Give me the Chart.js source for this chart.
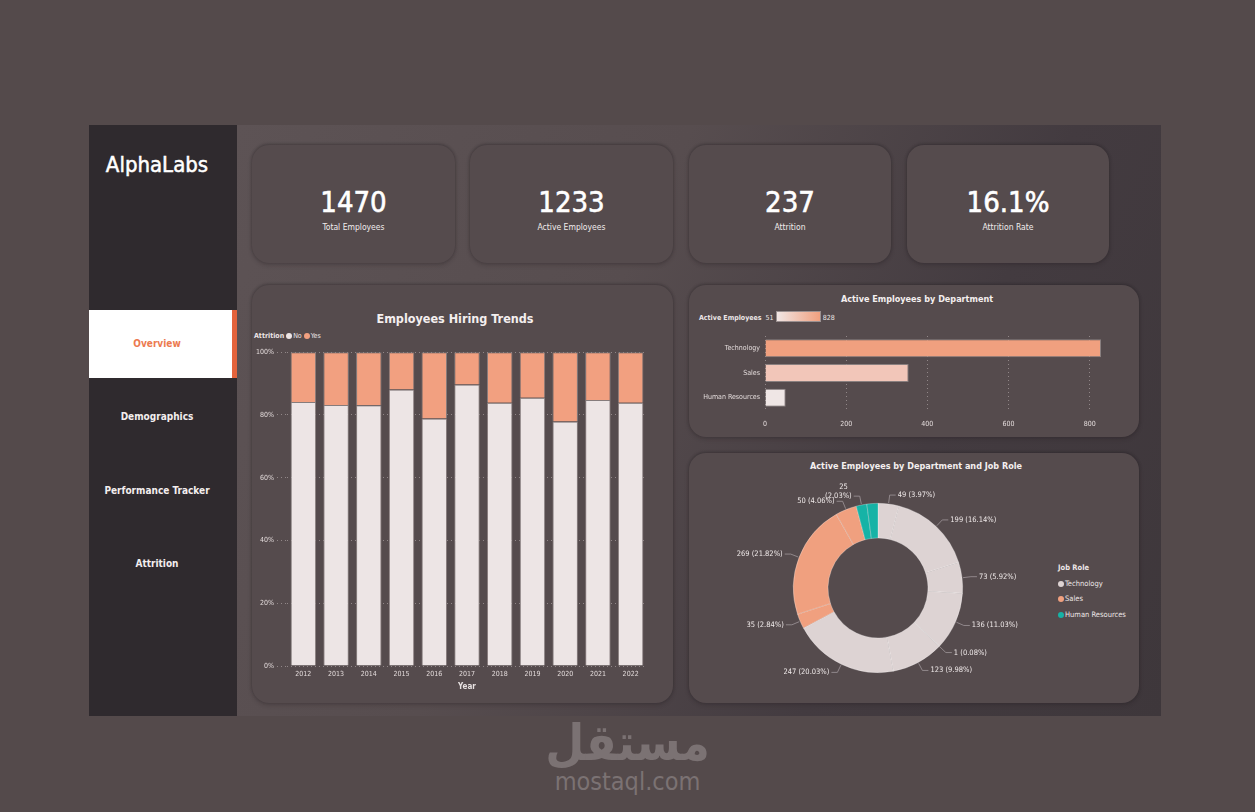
<!DOCTYPE html>
<html>
<head>
<meta charset="utf-8">
<script src="https://cdn.jsdelivr.net/npm/chart.js@4.4.1/dist/chart.umd.min.js"></script>
<style>
  body { margin: 0; width: 1255px; height: 812px; background: #544a4b; position: relative; overflow: hidden;
    font-family: "DejaVu Sans Condensed", "Liberation Sans Narrow", "DejaVu Sans", sans-serif; color: #fff; }
  .abs { position: absolute; }
  #sidebar { left: 89px; top: 125px; width: 148px; height: 591px; background: #2f2a2e; }
  #main { left: 237px; top: 125px; width: 924px; height: 591px;
    background: linear-gradient(115deg, #5d5355 0%, #574d4f 38%, #433b40 70%, #3e373b 100%); }
  .brand { left: 89px; top: 152px; width: 136px; text-align: center; font-size: 22px; -webkit-text-stroke: 0.5px #fff; }
  .nav { left: 89px; width: 136px; text-align: center; font-size: 10px; font-weight: bold; color: #f3eeee; }
  #overview { left: 89px; top: 310px; width: 143px; height: 68px; background: #ffffff; border-right: 5px solid #e4633c; }
  .card { background: #554b4d; border-radius: 17px; box-shadow: 0 -1px 3px rgba(30,25,28,0.35), 0 2px 4px rgba(30,25,28,0.25); }
  .kpi .num { position: absolute; left: 0; right: 0; top: 40px; text-align: center; font-size: 29px; line-height: 34px; -webkit-text-stroke: 0.6px #fff; }
  .kpi .lbl { position: absolute; left: 0; right: 0; top: 77px; text-align: center; font-size: 8.5px; color: #f1ecec; }
  .ctitle { text-align: center; font-weight: bold; color: #f4efef; }
  .leg { font-size: 7px; color: #ece6e6; white-space: nowrap; }
  .dot { display: inline-block; width: 6px; height: 6px; border-radius: 50%; vertical-align: -1px; margin-right: 1px; }
  .wrap { position: absolute; }
  .wm { left: 0; width: 1255px; text-align: center; color: #7b7273; }
</style>
</head>
<body>
<div id="sidebar" class="abs"></div>
<div id="main" class="abs"></div>
<div class="abs brand">AlphaLabs</div>
<div id="overview" class="abs"></div>
<div class="abs nav" style="top:338px; color:#ec7a50;">Overview</div>
<div class="abs nav" style="top:411px;">Demographics</div>
<div class="abs nav" style="top:485px;">Performance Tracker</div>
<div class="abs nav" style="top:558px;">Attrition</div>

<div class="abs card kpi" style="left:252px; top:145px; width:203px; height:118px;"><div class="num" id="k0"></div><div class="lbl">Total Employees</div></div>
<div class="abs card kpi" style="left:470px; top:145px; width:203px; height:118px;"><div class="num" id="k1"></div><div class="lbl">Active Employees</div></div>
<div class="abs card kpi" style="left:689px; top:145px; width:202px; height:118px;"><div class="num" id="k2"></div><div class="lbl">Attrition</div></div>
<div class="abs card kpi" style="left:907px; top:145px; width:202px; height:118px;"><div class="num" id="k3"></div><div class="lbl">Attrition Rate</div></div>

<div class="abs card" style="left:252px; top:285px; width:421px; height:418px;"></div>
<div class="abs card" style="left:689px; top:285px; width:450px; height:152px;"></div>
<div class="abs card" style="left:689px; top:453px; width:450px; height:250px;"></div>

<div class="abs ctitle" style="left:252px; width:406px; top:311px; font-size:12.5px;">Employees Hiring Trends</div>
<div class="abs leg" style="left:254px; top:332px;"><b>Attrition</b> <span class="dot" style="background:#ede5e5"></span>No <span class="dot" style="background:#f2a080"></span>Yes</div>
<div class="wrap" style="left:252px; top:345px; width:421px; height:352px;"><canvas id="hiring"></canvas></div>

<div class="abs ctitle" style="left:689px; width:456px; top:294px; font-size:9px;">Active Employees by Department</div>
<div class="abs leg" style="left:699px; top:311px;"><b>Active Employees</b>&nbsp; <span id="dmin"></span> <span style="display:inline-block; width:43px; height:9px; vertical-align:-2px; border:1px solid #9a9090; background:linear-gradient(90deg,#f1e6e4,#f0a07f);"></span> <span id="dmax"></span></div>
<div class="wrap" style="left:689px; top:322px; width:450px; height:115px;"><canvas id="dept"></canvas></div>

<div class="abs ctitle" style="left:689px; width:454px; top:461px; font-size:9px;">Active Employees by Department and Job Role</div>
<div class="abs leg" style="left:1058px; top:560px; font-size:7.5px; line-height:15.5px;">
  <b>Job Role</b><br>
  <span class="dot" style="background:#ddd3d3"></span>Technology<br>
  <span class="dot" style="background:#f0a07f"></span>Sales<br>
  <span class="dot" style="background:#16b3a6"></span>Human Resources
</div>
<div class="wrap" style="left:689px; top:453px; width:450px; height:250px;"><canvas id="roles"></canvas></div>

<div class="abs wm" style="top:714px; font-size:50px; font-weight:bold; line-height:58px;">مستقل</div>
<div class="abs wm" style="top:767px; font-size:25px; line-height:30px;">mostaql.com</div>

<script>
const FONT = '"DejaVu Sans Condensed", "Liberation Sans Narrow", "DejaVu Sans", sans-serif';

// KPI values
const kpiValues = ['1470', '1233', '237', '16.1%'];

// hiring trends (share of employees, %)
const years = ['2012', '2013', '2014', '2015', '2016', '2017', '2018', '2019', '2020', '2021', '2022'];
const attritionNo = [84.1, 83.2, 83.1, 88.1, 78.9, 89.7, 83.9, 85.5, 77.9, 84.8, 83.9];
const attritionYes = [15.9, 16.8, 16.9, 11.9, 21.1, 10.3, 16.1, 14.5, 22.1, 15.2, 16.1];
const pctTicks = [0, 20, 40, 60, 80, 100];

// active employees by department
const departments = ['Technology', 'Sales', 'Human Resources'];
const activeByDept = [828, 354, 51];
const deptTicks = [0, 200, 400, 600, 800];
const deptColors = ['#f0a07f', '#f2c6b9', '#efe6e5'];

// active employees by job role (clockwise from top)
const roleValues = [49, 199, 73, 136, 1, 123, 247, 35, 269, 50, 25, 26];
const roleDept = ['Technology', 'Technology', 'Technology', 'Technology', 'Technology', 'Technology', 'Technology',
  'Sales', 'Sales', 'Sales', 'Human Resources', 'Human Resources'];
const roleShowLabel = [true, true, true, true, true, true, true, true, true, true, true, false];
const roleWrapLabel = [false, false, false, false, false, false, false, false, false, false, true, false];
const roleColors = { 'Technology': '#ddd3d3', 'Sales': '#f0a07f', 'Human Resources': '#16b3a6' };

kpiValues.forEach((v, i) => { document.getElementById('k' + i).textContent = v; });
document.getElementById('dmin').textContent = Math.min(...activeByDept);
document.getElementById('dmax').textContent = Math.max(...activeByDept);

Chart.defaults.font.family = FONT;
Chart.defaults.color = '#ddd5d5';
Chart.defaults.animation = false;

const gridColor = 'rgba(205,195,195,0.5)';

new Chart(document.getElementById('hiring'), {
  type: 'bar',
  data: {
    labels: years,
    datasets: [
      { label: 'No', data: attritionNo, backgroundColor: '#ede5e5', borderColor: 'rgba(140,130,130,0.9)', borderWidth: 1 },
      { label: 'Yes', data: attritionYes, backgroundColor: '#f2a080', borderColor: 'rgba(140,130,130,0.9)', borderWidth: 1 }
    ]
  },
  options: {
    responsive: true,
    maintainAspectRatio: false,
    layout: { padding: { top: 6, right: 26, bottom: 0, left: 0 } },
    plugins: { legend: { display: false }, tooltip: { enabled: false } },
    datasets: { bar: { barPercentage: 0.78, categoryPercentage: 1 } },
    scales: {
      x: {
        stacked: true,
        grid: { display: false, drawTicks: false },
        border: { display: false },
        ticks: { font: { size: 7 }, padding: 4, color: '#e2dada' },
        title: { display: true, text: 'Year', font: { size: 8, weight: 'bold' }, color: '#e8e2e2', padding: { top: 0, bottom: 5 } },
        afterFit: (s) => { s.height = 31; }
      },
      y: {
        stacked: true,
        min: 0,
        max: 100,
        afterBuildTicks: (s) => { s.ticks = pctTicks.map((v) => ({ value: v })); },
        grid: { color: gridColor, lineWidth: 1, tickLength: 10, tickBorderDash: [1, 3], tickColor: gridColor },
        border: { display: false, dash: [1, 3] },
        ticks: { font: { size: 7 }, padding: 3, color: '#e2dada', callback: (v) => v + '%' },
        afterFit: (s) => { s.width = 35; }
      }
    }
  }
});

new Chart(document.getElementById('dept'), {
  type: 'bar',
  data: {
    labels: departments,
    datasets: [{ data: activeByDept, backgroundColor: deptColors, borderColor: 'rgba(150,140,140,0.8)', borderWidth: 1 }]
  },
  options: {
    indexAxis: 'y',
    responsive: true,
    maintainAspectRatio: false,
    layout: { padding: { top: 14, right: 38, bottom: 0, left: 0 } },
    plugins: { legend: { display: false }, tooltip: { enabled: false } },
    datasets: { bar: { barPercentage: 0.73, categoryPercentage: 1 } },
    scales: {
      x: {
        min: 0,
        max: Math.max(...activeByDept),
        afterBuildTicks: (s) => { s.ticks = deptTicks.map((v) => ({ value: v })); },
        ticks: { font: { size: 7 }, padding: 10, color: '#e2dada' },
        grid: { color: gridColor, drawTicks: false },
        border: { display: false, dash: [1, 3] },
        afterFit: (s) => { s.height = 27; }
      },
      y: {
        grid: { display: false, drawTicks: false },
        border: { display: false },
        ticks: { font: { size: 7 }, padding: 5, color: '#e2dada' },
        afterFit: (s) => { s.width = 76; }
      }
    }
  }
});

const sliceLabels = {
  id: 'sliceLabels',
  afterDatasetsDraw(chart) {
    const ctx = chart.ctx;
    const meta = chart.getDatasetMeta(0);
    const values = chart.data.datasets[0].data;
    const total = values.reduce((a, b) => a + b, 0);
    ctx.save();
    ctx.font = '7.5px ' + FONT;
    ctx.strokeStyle = '#a0979a';
    ctx.lineWidth = 0.8;
    ctx.fillStyle = '#efe9e9';
    ctx.textBaseline = 'middle';
    meta.data.forEach((arc, i) => {
      if (!roleShowLabel[i]) return;
      const p = arc.getProps(['x', 'y', 'startAngle', 'endAngle', 'outerRadius'], true);
      const mid = (p.startAngle + p.endAngle) / 2;
      const c = Math.cos(mid), s = Math.sin(mid);
      const x0 = p.x + c * (p.outerRadius + 1), y0 = p.y + s * (p.outerRadius + 1);
      const x1 = p.x + c * (p.outerRadius + 9), y1 = p.y + s * (p.outerRadius + 9);
      const dir = c >= 0 ? 1 : -1;
      const x2 = x1 + dir * 6;
      ctx.beginPath();
      ctx.moveTo(x0, y0);
      ctx.lineTo(x1, y1);
      ctx.lineTo(x2, y1);
      ctx.stroke();
      const pct = '(' + (values[i] / total * 100).toFixed(2) + '%)';
      ctx.textAlign = dir > 0 ? 'left' : 'right';
      if (roleWrapLabel[i]) {
        ctx.fillText(String(values[i]), x2 + dir * 2 - 4, y1 - 9);
        ctx.fillText(pct, x2 + dir * 2, y1);
      } else {
        ctx.fillText(values[i] + ' ' + pct, x2 + dir * 2, y1);
      }
    });
    ctx.restore();
  }
};

new Chart(document.getElementById('roles'), {
  type: 'doughnut',
  data: {
    labels: roleDept,
    datasets: [{
      data: roleValues,
      backgroundColor: roleDept.map((d) => roleColors[d]),
      borderColor: 'rgba(255,255,255,0.4)',
      borderWidth: 0.7
    }]
  },
  options: {
    responsive: true,
    maintainAspectRatio: false,
    cutout: '59%',
    layout: { padding: { top: 50, right: 176, bottom: 30, left: 104 } },
    plugins: { legend: { display: false }, tooltip: { enabled: false } }
  },
  plugins: [sliceLabels]
});
</script>
</body>
</html>
